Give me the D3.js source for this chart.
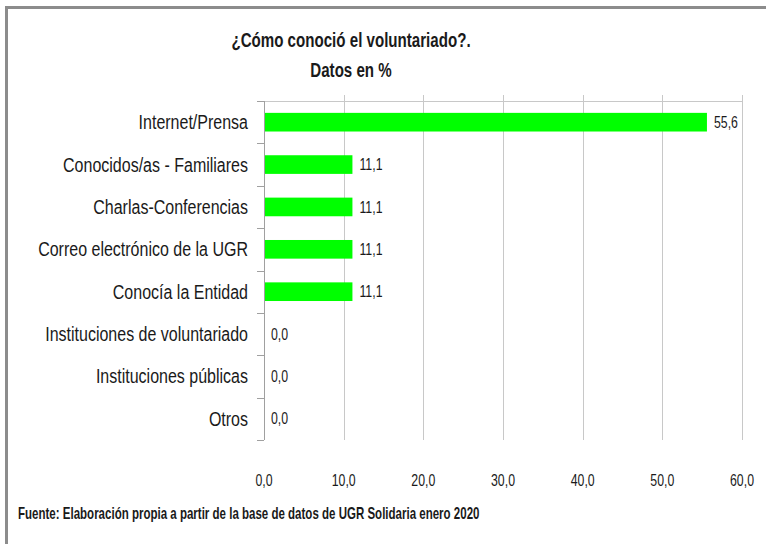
<!DOCTYPE html>
<html>
<head>
<meta charset="utf-8">
<script src="https://cdn.jsdelivr.net/npm/d3@7"></script>
<style>
  body { margin: 0; background: #fff; }
  svg { display: block; font-family: "Liberation Sans", Arial, sans-serif; }
</style>
</head>
<body>
<div id="chart"></div>
<script>
// data
const categories = [
  "Internet/Prensa",
  "Conocidos/as - Familiares",
  "Charlas-Conferencias",
  "Correo electrónico de la UGR",
  "Conocía la Entidad",
  "Instituciones de voluntariado",
  "Instituciones públicas",
  "Otros"
];
const values = [55.6, 11.1, 11.1, 11.1, 11.1, 0.0, 0.0, 0.0];
const xTicks = [0, 10, 20, 30, 40, 50, 60];
const titleLines = ["¿Cómo conoció el voluntariado?.", "Datos en %"];
const source = "Fuente: Elaboración  propia a partir de la base de datos de UGR Solidaria enero 2020";

const width = 766, height = 544;
const margin = { top: 101, right: 24, bottom: 104, left: 264 };

const fmt = v => d3.format(".1f")(v).replace(".", ",");
// the original font is a narrow one, so squeeze text horizontally
const squeeze = (px, py, s) => `translate(${px},${py}) scale(${s},1)`;

const svg = d3.select("#chart").append("svg")
  .attr("width", width)
  .attr("height", height)
  .attr("xml:space", "preserve");

// clipped frame: only top and left edges are visible
svg.append("path")
  .attr("d", `M6.5,${height} V7.5 H${width}`)
  .attr("fill", "none")
  .attr("stroke", "#8c8c8c")
  .attr("stroke-width", 3);

const x = d3.scaleLinear()
  .domain([0, 60])
  .range([margin.left, width - margin.right]);

const y = d3.scaleBand()
  .domain(categories)
  .range([margin.top, height - margin.bottom])
  .paddingInner(0.56)
  .paddingOuter(0.28);

// vertical gridlines
svg.append("g")
  .selectAll("line")
  .data(xTicks.slice(1))
  .join("line")
    .attr("x1", d => Math.round(x(d)) + 0.5)
    .attr("x2", d => Math.round(x(d)) + 0.5)
    .attr("y1", margin.top - 6)
    .attr("y2", height - margin.bottom)
    .attr("stroke", "#c8c8c8");

// top border line of plot
svg.append("line")
  .attr("x1", margin.left - 7)
  .attr("x2", x(60))
  .attr("y1", margin.top + 0.5)
  .attr("y2", margin.top + 0.5)
  .attr("stroke", "#c8c8c8");

// category axis with ticks on band boundaries
const bounds = categories.map(c => y(c) - y.step() * y.paddingInner() / 2)
  .concat([height - margin.bottom]);
const yAxis = svg.append("g");
yAxis.append("line")
  .attr("x1", margin.left + 0.5).attr("x2", margin.left + 0.5)
  .attr("y1", margin.top).attr("y2", height - margin.bottom)
  .attr("stroke", "#a0a0a0");
yAxis.selectAll(".tk")
  .data(bounds)
  .join("line")
    .attr("class", "tk")
    .attr("x1", margin.left - 7).attr("x2", margin.left)
    .attr("y1", d => Math.round(d) + 0.5).attr("y2", d => Math.round(d) + 0.5)
    .attr("stroke", "#a0a0a0");
yAxis.selectAll("text")
  .data(categories)
  .join("text")
    .attr("transform", d => squeeze(margin.left - 16, y(d) + y.bandwidth() / 2, 0.8))
    .attr("dy", "0.35em")
    .attr("text-anchor", "end")
    .attr("font-size", 20)
    .attr("fill", "#1a1a1a")
    .text(d => d);

// bars
svg.append("g")
  .selectAll("rect")
  .data(values)
  .join("rect")
    .attr("x", x(0) + 1)
    .attr("y", (d, i) => y(categories[i]))
    .attr("width", d => Math.max(0, x(d) - x(0) - 1))
    .attr("height", y.bandwidth())
    .attr("fill", "#00ff00");

// value labels
svg.append("g")
  .selectAll("text")
  .data(values)
  .join("text")
    .attr("transform", (d, i) => squeeze(x(d) + 7, y(categories[i]) + y.bandwidth() / 2, 0.77))
    .attr("dy", "0.35em")
    .attr("font-size", 16)
    .attr("fill", "#1a1a1a")
    .text(d => fmt(d));

// x tick labels
svg.append("g")
  .selectAll("text")
  .data(xTicks)
  .join("text")
    .attr("transform", d => squeeze(x(d), 486, 0.77))
    .attr("text-anchor", "middle")
    .attr("font-size", 16)
    .attr("fill", "#1a1a1a")
    .text(d => fmt(d));

// title
svg.append("g")
  .selectAll("text")
  .data(titleLines)
  .join("text")
    .attr("transform", (d, i) => squeeze(351, 47 + i * 30, 0.72))
    .attr("text-anchor", "middle")
    .attr("font-size", 21)
    .attr("font-weight", "bold")
    .attr("fill", "#1a1a1a")
    .text(d => d);

// source note
svg.append("text")
  .attr("transform", squeeze(18, 519, 0.72))
  .attr("font-size", 16)
  .attr("font-weight", "bold")
  .attr("fill", "#1a1a1a")
  .text(source);
</script>
</body>
</html>
